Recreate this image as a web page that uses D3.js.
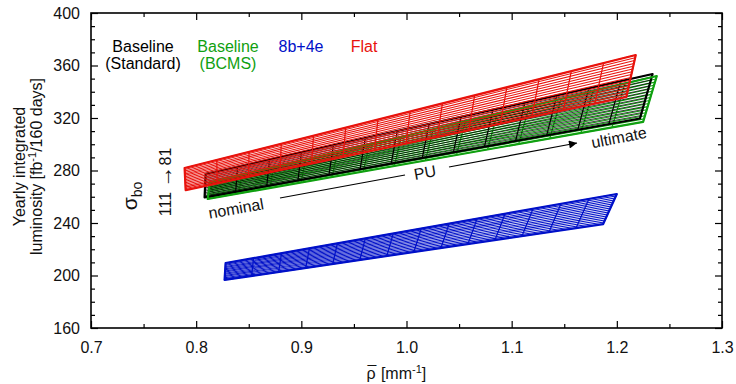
<!DOCTYPE html>
<html>
<head>
<meta charset="utf-8">
<script src="https://cdn.jsdelivr.net/npm/d3@7"></script>
<style>
  body { margin: 0; background: #fff; }
  text { font-family: "Liberation Sans", Arial, sans-serif; }
</style>
</head>
<body>
<script>
var width = 736;
var height = 384;

// scenarios
var names = ["Baseline (BCMS)", "Baseline (Standard)", "Flat", "8b+4e"];
var colors = ["#10a010", "#000000", "#e8120c", "#0010c8"];
var sigWidth = [1.1, 0.75, 1.05, 1.05];
// drawing sequence: mesh interior or outline of scenario k
var drawOrder = [["mesh", 0], ["mesh", 1], ["edge", 1], ["edge", 0], ["mesh", 2], ["edge", 2], ["mesh", 3], ["edge", 3]];

// corners of each mesh [rho, lumi]: nominal PU (left) / ultimate PU (right), sigma 81 (top) / 111 (bottom)
var leftTop     = [[0.813, 271.0], [0.809, 277.5], [0.789, 281.9], [0.828, 209.5]];
var leftBottom  = [[0.811, 258.3], [0.808, 259.5], [0.790, 265.1], [0.827, 196.6]];
var rightTop    = [[1.238, 352.0], [1.234, 353.5], [1.218, 368.0], [1.200, 262.1]];
var rightBottom = [[1.225, 317.0], [1.222, 319.6], [1.209, 336.0], [1.187, 239.2]];

// mesh parameters
var sigmaBo = [81, 83, 85, 87, 89, 91, 93, 95, 97, 99, 101, 103, 105, 107, 109, 111];
var puSteps = [0, 1, 2, 3, 4, 5, 6, 7, 8, 9, 10, 11, 12, 13, 14];

var xTicks = [0.7, 0.8, 0.9, 1.0, 1.1, 1.2, 1.3];
var xMinor = [0.75, 0.85, 0.95, 1.05, 1.15, 1.25];
var yTicks = [160, 200, 240, 280, 320, 360, 400];
var yMinor = [170, 180, 190, 210, 220, 230, 250, 260, 270, 290, 300, 310, 330, 340, 350, 370, 380, 390];

var frame = { left: 91, right: 722, top: 13, bottom: 328 };

var svg = d3.select("body").append("svg")
    .attr("width", width)
    .attr("height", height);

var x = d3.scaleLinear().domain([0.7, 1.3]).range([frame.left, frame.right]);
var y = d3.scaleLinear().domain([160, 400]).range([frame.bottom, frame.top]);

// meshes
var lerp = function (a, b, t) { return [a[0] + (b[0] - a[0]) * t, a[1] + (b[1] - a[1]) * t]; };
var line = d3.line().x(function (d) { return x(d[0]); }).y(function (d) { return y(d[1]); });

drawOrder.forEach(function (op) {
  var k = op[1];
  if (op[0] == "edge") {
    svg.append("path")
        .attr("fill", "none")
        .attr("stroke", colors[k])
        .attr("stroke-width", 2.2)
        .attr("stroke-linejoin", "round")
        .attr("d", line([leftTop[k], rightTop[k], rightBottom[k], leftBottom[k]]) + "Z");
    return;
  }
  var g = svg.append("g").attr("class", "mesh")
      .attr("stroke", colors[k]).attr("fill", "none");
  var nS = sigmaBo.length - 1, nP = puSteps.length - 1;
  g.selectAll(".sig").data(sigmaBo).enter().append("path")
      .attr("class", "sig")
      .attr("stroke-width", sigWidth[k])
      .attr("d", function (d, j) {
        var t = j / nS;
        return line([lerp(leftTop[k], leftBottom[k], t), lerp(rightTop[k], rightBottom[k], t)]);
      });
  g.selectAll(".pu").data(puSteps).enter().append("path")
      .attr("class", "pu")
      .attr("stroke-width", 1.2)
      .attr("d", function (d, i) {
        var s = i / nP;
        return line([lerp(leftTop[k], rightTop[k], s), lerp(leftBottom[k], rightBottom[k], s)]);
      });
});

// axes, ticks pointing inward
var fmtX = d3.format(".1f");
function styleAxis(g) {
  g.select(".domain").remove();
  g.selectAll("line").attr("stroke", "#000").attr("stroke-width", 1.2);
  g.selectAll("text").attr("font-size", 16).attr("fill", "#111")
      .style("font-family", "'Liberation Sans', Arial, sans-serif");
}
svg.append("g").attr("transform", "translate(0," + frame.bottom + ")")
    .call(d3.axisBottom(x).tickValues(xTicks).tickFormat(fmtX).tickSize(-7).tickPadding(14))
    .call(styleAxis);
svg.append("g").attr("transform", "translate(0," + frame.bottom + ")")
    .call(d3.axisBottom(x).tickValues(xMinor).tickFormat("").tickSize(-4))
    .call(styleAxis);
svg.append("g").attr("transform", "translate(0," + frame.top + ")")
    .call(d3.axisTop(x).tickValues(xTicks).tickFormat("").tickSize(-7))
    .call(styleAxis);
svg.append("g").attr("transform", "translate(0," + frame.top + ")")
    .call(d3.axisTop(x).tickValues(xMinor).tickFormat("").tickSize(-4))
    .call(styleAxis);
svg.append("g").attr("transform", "translate(" + frame.left + ",0)")
    .call(d3.axisLeft(y).tickValues(yTicks).tickSize(-7).tickPadding(11))
    .call(styleAxis);
svg.append("g").attr("transform", "translate(" + frame.left + ",0)")
    .call(d3.axisLeft(y).tickValues(yMinor).tickFormat("").tickSize(-4))
    .call(styleAxis);
svg.append("g").attr("transform", "translate(" + frame.right + ",0)")
    .call(d3.axisRight(y).tickValues(yTicks).tickFormat("").tickSize(-7))
    .call(styleAxis);
svg.append("g").attr("transform", "translate(" + frame.right + ",0)")
    .call(d3.axisRight(y).tickValues(yMinor).tickFormat("").tickSize(-4))
    .call(styleAxis);

svg.append("rect")
    .attr("x", frame.left).attr("y", frame.top)
    .attr("width", frame.right - frame.left).attr("height", frame.bottom - frame.top)
    .attr("fill", "none").attr("stroke", "#000").attr("stroke-width", 1.6);

// axis titles
var xt = svg.append("text")
    .attr("x", (frame.left + frame.right) / 2 - 40).attr("y", 379)
    .attr("font-size", 16).attr("fill", "#111");
xt.append("tspan").text("ρ");
xt.append("tspan").attr("dx", -8).attr("dy", -1).text("\u00af");
xt.append("tspan").attr("dy", 1).text(" [mm");
xt.append("tspan").attr("dy", -6).attr("font-size", 11).text("-1");
xt.append("tspan").attr("dy", 6).text("]");

var yt = svg.append("text")
    .attr("transform", "translate(25," + ((frame.top + frame.bottom) / 2 - 4) + ") rotate(-90)")
    .attr("text-anchor", "middle").attr("font-size", 16).attr("fill", "#111");
yt.append("tspan").attr("x", 0).attr("dy", 0).text("Yearly integrated");
yt.append("tspan").attr("x", 0).attr("dy", 17).text("luminosity [fb");
yt.append("tspan").attr("dy", -6).attr("font-size", 11).text("-1");
yt.append("tspan").attr("dy", 6).text("/160 days]");

// legend
var legend = [
  { lines: ["Baseline", "(Standard)"], color: "#000000", cx: 143 },
  { lines: ["Baseline", "(BCMS)"], color: "#10a010", cx: 228 },
  { lines: ["8b+4e"], color: "#0010c8", cx: 301 },
  { lines: ["Flat"], color: "#e8120c", cx: 364 }
];
legend.forEach(function (l) {
  l.lines.forEach(function (s, i) {
    svg.append("text")
        .attr("x", l.cx).attr("y", 52 + i * 17)
        .attr("text-anchor", "middle").attr("font-size", 16)
        .attr("fill", l.color).text(s);
  });
});

// annotations
var sg = svg.append("text")
    .attr("transform", "translate(137,196) rotate(-90)")
    .attr("text-anchor", "middle").attr("font-size", 21).attr("fill", "#111");
sg.append("tspan").text("σ");
sg.append("tspan").attr("font-size", 14).attr("dy", 5).text("bo");
var sr = svg.append("text")
    .attr("transform", "translate(171,182) rotate(-90)")
    .attr("text-anchor", "middle").attr("font-size", 16).attr("fill", "#111");
sr.append("tspan").text("111 ");
sr.append("tspan").attr("font-size", 22).attr("dy", 1).text("\u2192");
sr.append("tspan").attr("dy", -1).text("81");

svg.append("text")
    .attr("transform", "translate(237,214) rotate(-10)")
    .attr("text-anchor", "middle").attr("font-size", 16).attr("fill", "#111")
    .text("nominal");
svg.append("text")
    .attr("transform", "translate(620,143) rotate(-11)")
    .attr("text-anchor", "middle").attr("font-size", 16).attr("fill", "#111")
    .text("ultimate");
svg.append("text")
    .attr("transform", "translate(426,178) rotate(-10)")
    .attr("text-anchor", "middle").attr("font-size", 16).attr("fill", "#111")
    .text("PU");

svg.append("defs").append("marker")
    .attr("id", "arrow").attr("viewBox", "0 0 10 10")
    .attr("refX", 10).attr("refY", 5)
    .attr("markerWidth", 16).attr("markerHeight", 8)
    .attr("markerUnits", "userSpaceOnUse")
    .attr("orient", "auto")
  .append("path").attr("d", "M0,0L10,5L0,10Z").attr("fill", "#000");

svg.append("line")
    .attr("x1", 280).attr("y1", 198).attr("x2", 405).attr("y2", 175)
    .attr("stroke", "#000").attr("stroke-width", 1.2);
svg.append("line")
    .attr("x1", 449).attr("y1", 167).attr("x2", 577).attr("y2", 143)
    .attr("stroke", "#000").attr("stroke-width", 1.2)
    .attr("marker-end", "url(#arrow)");
</script>
</body>
</html>
